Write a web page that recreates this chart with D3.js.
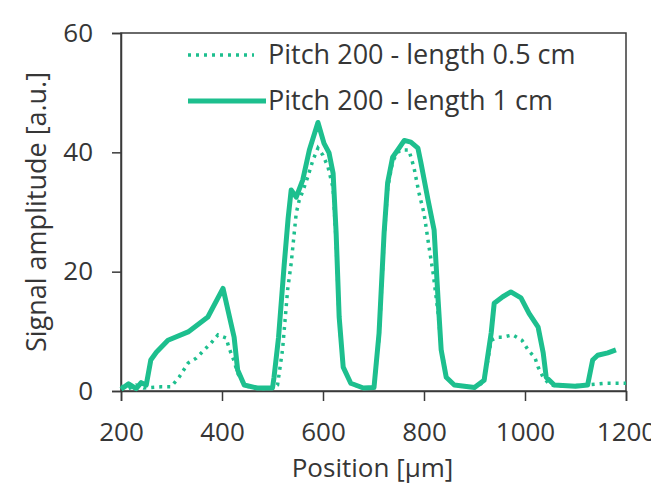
<!DOCTYPE html>
<html>
<head>
<meta charset="utf-8">
<script src="https://d3js.org/d3.v7.min.js"></script>
<style>
  body { margin: 0; background: #fff; }
  svg text { font-family: "Open Sans", sans-serif; fill: #363636; }
</style>
</head>
<body>
<svg id="chart" width="651" height="493"></svg>
<script>
// position in µm
var posThin = [200, 215, 230, 245, 260, 279, 299, 315, 333, 349, 365, 378, 392, 408, 414, 424, 431, 444, 460, 480, 500, 510,
  520, 530, 537, 547, 553, 560, 570, 580, 590, 600, 610, 620, 626, 632, 640, 655, 680, 701, 711, 721, 728, 738, 748,
  755, 770, 780, 790, 800, 810, 818, 828, 834, 844, 860, 900, 919, 933, 945, 955, 976, 994, 1006, 1020, 1026, 1036,
  1050, 1080, 1120, 1160, 1200];
// length 0.5 cm (dotted)
var ampThin = [0.8, 0.4, 1.0, 0.5, 0.6, 0.7, 0.7, 2.3, 4.7, 5.5, 6.9, 8.0, 9.4, 8.9, 7.2, 5.0, 3.0, 1.0, 0.5, 0.4, 0.5, 1.0,
  7, 17, 21.4, 29.8, 32, 33.5, 35.9, 38.7, 40.7, 39.5, 37.5, 34, 25, 12, 4, 1.2, 0.5, 0.6, 9.0, 25.5, 34, 38.5, 40,
  40.4, 40.4, 37.5, 33.2, 29.8, 24.1, 19.8, 13, 7.4, 2.3, 1.0, 0.6, 1.5, 8.5, 9.0, 9.0, 9.4, 8.5, 6.9, 5.5, 4.0, 2.3,
  1.0, 0.8, 1.0, 1.3, 1.3];

var posThick = [200, 215, 230, 240, 250, 259, 270, 293, 333, 372, 402, 424, 431, 444, 470, 500, 503, 512, 523, 531, 537,
  547, 560, 573, 590, 602, 612, 620, 626, 632, 640, 655, 680, 701, 711, 721, 728, 738, 748, 761, 774, 788, 794, 808,
  820, 828, 834, 844, 860, 900, 919, 933, 939, 956, 972, 992, 1008, 1026, 1036, 1042, 1058, 1100, 1124, 1134, 1144,
  1164, 1180];
// length 1 cm (solid)
var ampThick = [0.3, 1.2, 0.4, 1.4, 1.0, 5.2, 6.5, 8.5, 9.9, 12.4, 17.2, 9.0, 3.5, 1.0, 0.5, 0.5, 2.3, 9, 21, 29, 33.7,
  32.5, 35.4, 40.4, 45, 41.5, 39.9, 36.5, 26.5, 12.4, 4.0, 1.3, 0.5, 0.6, 9.7, 26.5, 34.9, 39.2, 40.4, 42, 41.7, 40.7,
  38.2, 32, 27, 15.2, 6.9, 2.3, 1.0, 0.6, 1.8, 9.7, 14.7, 15.8, 16.6, 15.6, 13, 10.7, 6.4, 2.3, 1.0, 0.8, 1.0, 5.2, 6.0,
  6.4, 6.9];

var seriesNames = ["Pitch 200 - length 0.5 cm", "Pitch 200 - length 1 cm"];
var xTicks = [200, 400, 600, 800, 1000, 1200];
var yTicks = [0, 20, 40, 60];

var green = "#1dbf8e";
var svg = d3.select("#chart");
var margin = {left: 121, right: 25, top: 33, bottom: 102};
var width = 651 - margin.left - margin.right,
    height = 493 - margin.top - margin.bottom;

var x = d3.scaleLinear().domain([200, 1200]).range([0, width]);
var y = d3.scaleLinear().domain([0, 60]).range([height, 0]);

var g = svg.append("g").attr("transform", "translate(" + margin.left + "," + margin.top + ")");

// frame
g.append("rect")
  .attr("x", 0).attr("y", 0)
  .attr("width", width).attr("height", height)
  .attr("fill", "none").attr("stroke", "#3a3a3a").attr("stroke-width", 1.5);

var xAxis = g.append("g")
  .attr("transform", "translate(0," + height + ")")
  .call(d3.axisBottom(x).tickValues(xTicks).tickSize(10).tickPadding(22).tickFormat(d3.format("d")));
var yAxis = g.append("g")
  .call(d3.axisLeft(y).tickValues(yTicks).tickSize(9).tickPadding(19));

[xAxis, yAxis].forEach(function(a) {
  a.select(".domain").attr("stroke", "#3a3a3a").attr("stroke-width", 1.5);
  a.selectAll(".tick line").attr("stroke", "#3a3a3a").attr("stroke-width", 1.5);
  a.selectAll(".tick text").style("font-size", "26px").attr("fill", "#363636");
});

var line = d3.line()
  .x(function(d) { return x(d[0]); })
  .y(function(d) { return y(d[1]); });

var thin = posThin.map(function(p, i) { return [p, ampThin[i]]; });
var thick = posThick.map(function(p, i) { return [p, ampThick[i]]; });

g.append("path")
  .datum(thin)
  .attr("fill", "none")
  .attr("stroke", green)
  .attr("stroke-width", 3.5)
  .attr("stroke-dasharray", "3,5")
  .attr("d", line);

g.append("path")
  .datum(thick)
  .attr("fill", "none")
  .attr("stroke", green)
  .attr("stroke-width", 5)
  .attr("stroke-linejoin", "round")
  .attr("d", line);

// legend
var legend = svg.append("g");
var legY = [55, 101];
legend.append("line")
  .attr("x1", 188).attr("x2", 254).attr("y1", legY[0]).attr("y2", legY[0])
  .attr("stroke", green).attr("stroke-width", 3.5).attr("stroke-dasharray", "3,5");
legend.append("line")
  .attr("x1", 188).attr("x2", 266).attr("y1", legY[1]).attr("y2", legY[1])
  .attr("stroke", green).attr("stroke-width", 5);
seriesNames.forEach(function(n, i) {
  legend.append("text")
    .attr("x", 268).attr("y", legY[i])
    .attr("dy", "0.35em")
    .style("font-size", "27px")
    .text(n);
});

// axis titles
svg.append("text")
  .attr("x", margin.left + width / 2 - 1)
  .attr("y", 477)
  .attr("text-anchor", "middle")
  .style("font-size", "26px")
  .text("Position [µm]");

svg.append("text")
  .attr("transform", "translate(46," + (margin.top + height / 2) + ") rotate(-90)")
  .attr("text-anchor", "middle")
  .style("font-size", "27px")
  .text("Signal amplitude [a.u.]");
</script>
</body>
</html>
